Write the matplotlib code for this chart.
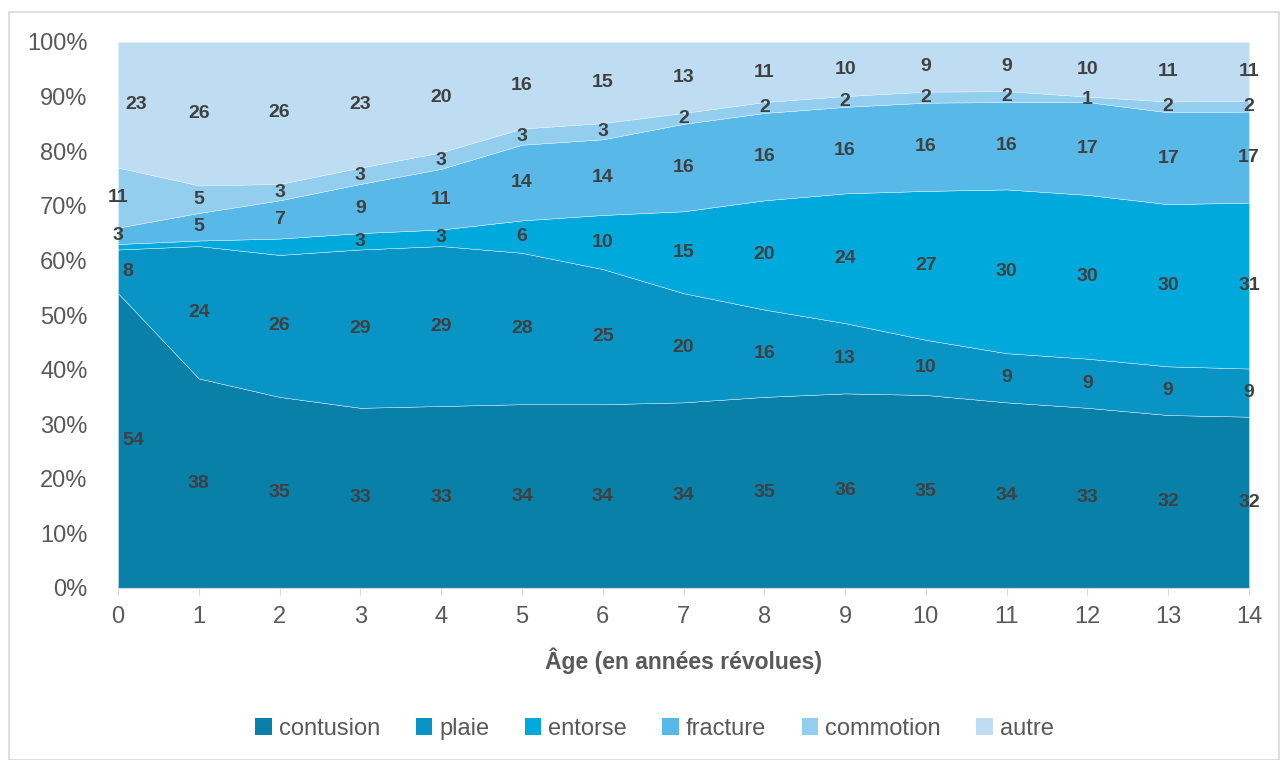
import matplotlib
matplotlib.use("Agg")
import matplotlib.pyplot as plt
from matplotlib.patches import Rectangle, Patch
from matplotlib.ticker import PercentFormatter
import numpy as np

plt.rcParams['font.family'] = ['Liberation Sans', 'DejaVu Sans']

ages = list(range(15))
series_names = ["contusion", "plaie", "entorse", "fracture", "commotion", "autre"]
contusion = [54, 38, 35, 33, 33, 34, 34, 34, 35, 36, 35, 34, 33, 32, 32]
plaie     = [8, 24, 26, 29, 29, 28, 25, 20, 16, 13, 10, 9, 9, 9, 9]
entorse   = [1, 1, 3, 3, 3, 6, 10, 15, 20, 24, 27, 30, 30, 30, 31]
fracture  = [3, 5, 7, 9, 11, 14, 14, 16, 16, 16, 16, 16, 17, 17, 17]
commotion = [11, 5, 3, 3, 3, 3, 3, 2, 2, 2, 2, 2, 1, 2, 2]
autre     = [23, 26, 26, 23, 20, 16, 15, 13, 11, 10, 9, 9, 10, 11, 11]
# entorse values at ages 0-2 carry no printed label
unlabeled = {("entorse", 0), ("entorse", 1), ("entorse", 2)}
# labels on the left edge are nudged into the plot area (points)
edge_shift = {("contusion", 0): 11, ("plaie", 0): 7, ("autre", 0): 13}

colors = ["#0880A8", "#0894C4", "#00A9DC", "#58B9E8", "#94CEEE", "#BEDDF3"]

data = np.array([contusion, plaie, entorse, fracture, commotion, autre], dtype=float)
shares = data / data.sum(axis=0) * 100

fig = plt.figure(figsize=(12.81, 7.60), dpi=100)
ax = fig.add_axes([118 / 1281, 1 - 588 / 760, (1249 - 118) / 1281, (588 - 42) / 760])

ax.stackplot(ages, shares, colors=colors, edgecolor="#E8F4FB", linewidth=0.3, alpha=1)

cum = np.vstack([np.zeros(len(ages)), np.cumsum(shares, axis=0)])
for i, name in enumerate(series_names):
    for j, age in enumerate(ages):
        if (name, age) in unlabeled:
            continue
        mid = (cum[i, j] + cum[i + 1, j]) / 2
        ax.annotate(f"{int(data[i, j])}", (age, mid),
                    xytext=(edge_shift.get((name, age), 0), 0), textcoords="offset points",
                    ha="center", va="center", fontsize=14, fontweight="bold",
                    color="#404040", annotation_clip=False)

ax.set_xlim(0, 14)
ax.set_ylim(0, 100)
ax.set_xticks(ages)
ax.set_yticks(range(0, 101, 10))
ax.yaxis.set_major_formatter(PercentFormatter(decimals=0))
ax.tick_params(axis="both", labelsize=17, colors="#595959", labelcolor="#595959")
ax.tick_params(axis="y", length=0, pad=22)
ax.tick_params(axis="x", length=5, color="#D9D9D9", pad=8)
for side in ["top", "right", "left"]:
    ax.spines[side].set_visible(False)
ax.spines["bottom"].set_color("#D9D9D9")
ax.set_facecolor("white")

ax.set_xlabel("Âge (en années révolues)", fontsize=16.5, fontweight="bold",
              color="#595959", labelpad=14)

handles = [Patch(facecolor=c, edgecolor="none") for c in colors]
fig.legend(handles, series_names, loc="center", bbox_to_anchor=(0.511, 0.041),
           ncol=6, frameon=False, fontsize=17, handlelength=0.7, handleheight=0.7,
           handletextpad=0.3, columnspacing=1.5, labelcolor="#595959")

fig.patches.append(Rectangle((9 / 1281, 0), 1270 / 1281, 1 - 12 / 760,
                             transform=fig.transFigure, fill=False,
                             edgecolor="#D9D9D9", linewidth=1.2))

fig.savefig("out.png", dpi=100, facecolor="white")
